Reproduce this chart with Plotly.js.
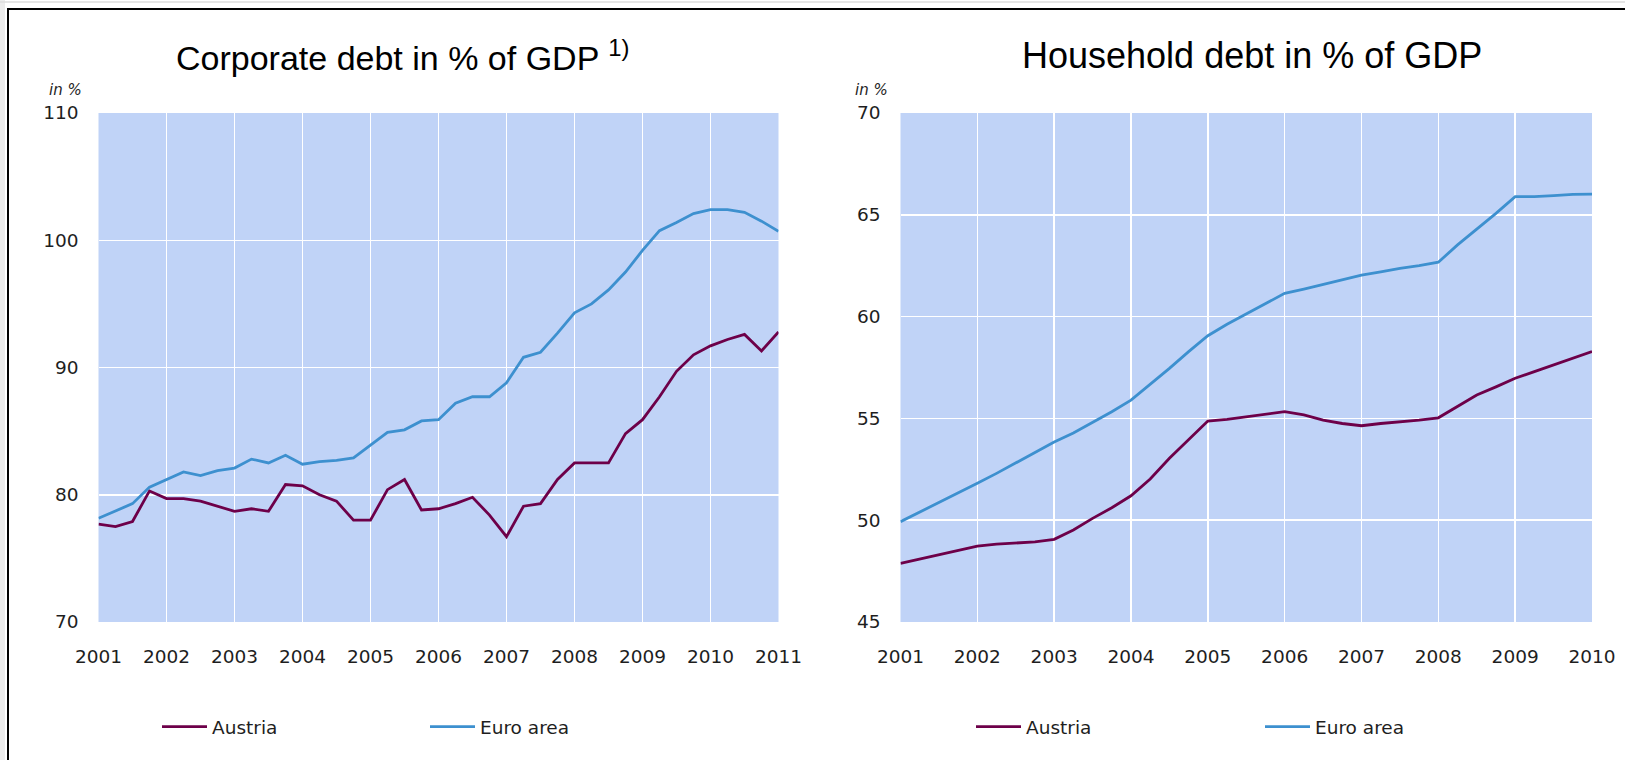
<!DOCTYPE html>
<html>
<head>
<meta charset="utf-8">
<script src="https://cdn.plot.ly/plotly-3.0.1.min.js"></script>
<style>
  html, body { margin: 0; padding: 0; background: #ffffff; overflow: hidden; }
  #chart { width: 1625px; height: 760px; }
</style>
</head>
<body>
<div id="chart"></div>
<script>
// ---------- data ----------
const corpQuarters = [2001, 2001.25, 2001.5, 2001.75, 2002, 2002.25, 2002.5, 2002.75,
  2003, 2003.25, 2003.5, 2003.75, 2004, 2004.25, 2004.5, 2004.75,
  2005, 2005.25, 2005.5, 2005.75, 2006, 2006.25, 2006.5, 2006.75,
  2007, 2007.25, 2007.5, 2007.75, 2008, 2008.25, 2008.5, 2008.75,
  2009, 2009.25, 2009.5, 2009.75, 2010, 2010.25, 2010.5, 2010.75, 2011];
const corpAustria = [77.7, 77.5, 77.9, 80.3, 79.7, 79.7, 79.5, 79.1,
  78.7, 78.9, 78.7, 80.8, 80.7, 80.0, 79.5, 78.0,
  78.0, 80.4, 81.2, 78.8, 78.9, 79.3, 79.8, 78.4,
  76.7, 79.1, 79.3, 81.2, 82.5, 82.5, 82.5, 84.8,
  85.9, 87.7, 89.7, 91.0, 91.7, 92.2, 92.6, 91.3, 92.8];
const corpEuro = [78.15, 78.7, 79.3, 80.6, 81.2, 81.8, 81.5, 81.9,
  82.1, 82.8, 82.5, 83.1, 82.4, 82.6, 82.7, 82.9,
  83.9, 84.9, 85.1, 85.8, 85.9, 87.2, 87.7, 87.7,
  88.8, 90.8, 91.2, 92.7, 94.3, 95.0, 96.1, 97.5,
  99.2, 100.75, 101.4, 102.1, 102.4, 102.4, 102.2, 101.5, 100.7];

const hhQuarters = [2001, 2001.25, 2001.5, 2001.75, 2002, 2002.25, 2002.5, 2002.75,
  2003, 2003.25, 2003.5, 2003.75, 2004, 2004.25, 2004.5, 2004.75,
  2005, 2005.25, 2005.5, 2005.75, 2006, 2006.25, 2006.5, 2006.75,
  2007, 2007.25, 2007.5, 2007.75, 2008, 2008.25, 2008.5, 2008.75,
  2009, 2009.25, 2009.5, 2009.75, 2010];
const hhAustria = [47.88, 48.09, 48.32, 48.54, 48.73, 48.82, 48.88, 48.94,
  49.06, 49.52, 50.09, 50.61, 51.2, 52.02, 53.04, 53.94,
  54.87, 54.95, 55.08, 55.2, 55.33, 55.17, 54.92, 54.75,
  54.64, 54.75, 54.83, 54.92, 55.03, 55.57, 56.15, 56.55,
  56.97, 57.3, 57.63, 57.96, 58.28];
const hhEuro = [49.93, 50.39, 50.88, 51.32, 51.81, 52.3, 52.8, 53.3,
  53.84, 54.28, 54.8, 55.33, 55.9, 56.67, 57.46, 58.28,
  59.06, 59.62, 60.12, 60.65, 61.14, 61.35, 61.58, 61.8,
  62.04, 62.2, 62.37, 62.5, 62.67, 63.52, 64.29, 65.07,
  65.89, 65.89, 65.94, 66.0, 66.02];

const corpYears = [2001, 2002, 2003, 2004, 2005, 2006, 2007, 2008, 2009, 2010, 2011];
const hhYears = [2001, 2002, 2003, 2004, 2005, 2006, 2007, 2008, 2009, 2010];
const corpTicks = [70, 80, 90, 100, 110];
const hhTicks = [45, 50, 55, 60, 65, 70];

const seriesNames = ['Austria', 'Euro area'];
const titles = ['Corporate debt in % of GDP <sup>1)</sup>', 'Household debt in % of GDP'];
const unitLabel = 'in %';

// ---------- style ----------
const W = 1625, H = 760;
const px = v => v / W;
const py = v => 1 - v / H;
const cAustria = '#6d0049';
const cEuro = '#3d90cf';
const plotBg = '#c0d3f7';
const tickFont = { family: 'DejaVu Sans, Liberation Sans, sans-serif', size: 18.5, color: '#1e1e1e' };
const lineW = 2.8;

const traces = [
  { x: corpQuarters, y: corpAustria, name: seriesNames[0], xaxis: 'x', yaxis: 'y', type: 'scatter', mode: 'lines',
    line: { color: cAustria, width: lineW }, legend: 'legend' },
  { x: corpQuarters, y: corpEuro, name: seriesNames[1], xaxis: 'x', yaxis: 'y', type: 'scatter', mode: 'lines',
    line: { color: cEuro, width: lineW }, legend: 'legend' },
  { x: hhQuarters, y: hhAustria, name: seriesNames[0], xaxis: 'x2', yaxis: 'y2', type: 'scatter', mode: 'lines',
    line: { color: cAustria, width: lineW }, legend: 'legend2' },
  { x: hhQuarters, y: hhEuro, name: seriesNames[1], xaxis: 'x2', yaxis: 'y2', type: 'scatter', mode: 'lines',
    line: { color: cEuro, width: lineW }, legend: 'legend2' }
];

const xBase = {
  showgrid: true, gridcolor: '#ffffff', gridwidth: 1.5, zeroline: false, showline: false,
  ticks: '', tickfont: tickFont, ticklabelstandoff: 21, fixedrange: true
};
const yBase = {
  showgrid: true, gridcolor: '#ffffff', gridwidth: 1.5, zeroline: false, showline: false,
  ticks: '', tickfont: tickFont, ticklabelstandoff: 19, fixedrange: true
};

const legendBase = {
  orientation: 'h', xanchor: 'left', yanchor: 'middle', bgcolor: 'rgba(0,0,0,0)',
  font: tickFont, itemwidth: 45, entrywidthmode: 'pixels', itemclick: false, itemdoubleclick: false
};

const layout = {
  width: W, height: H,
  margin: { l: 0, r: 0, t: 0, b: 0, autoexpand: false },
  paper_bgcolor: '#ffffff',
  plot_bgcolor: plotBg,
  font: { family: 'Liberation Sans, Arial, sans-serif', color: '#000' },
  xaxis: Object.assign({}, xBase, { domain: [px(98.5), px(778.5)], range: [2001, 2011],
    tickvals: corpYears, ticktext: corpYears.map(String), anchor: 'y' }),
  yaxis: Object.assign({}, yBase, { domain: [py(622), py(113)], range: [70, 110],
    tickvals: corpTicks, anchor: 'x' }),
  xaxis2: Object.assign({}, xBase, { domain: [px(900.5), px(1592)], range: [2001, 2010],
    tickvals: hhYears, ticktext: hhYears.map(String), anchor: 'y2' }),
  yaxis2: Object.assign({}, yBase, { domain: [py(622), py(113)], range: [45, 70],
    tickvals: hhTicks, anchor: 'x2' }),
  legend: Object.assign({}, legendBase, { x: px(157), y: py(727), entrywidth: 208 }),
  legend2: Object.assign({}, legendBase, { x: px(971), y: py(727), entrywidth: 229 }),
  annotations: [
    { text: titles[0], xref: 'paper', yref: 'paper', x: px(402), y: py(55), xanchor: 'center', yanchor: 'middle',
      showarrow: false, font: { family: 'Liberation Sans, Arial, sans-serif', size: 34, color: '#000' } },
    { text: titles[1], xref: 'paper', yref: 'paper', x: px(1252), y: py(55), xanchor: 'center', yanchor: 'middle',
      showarrow: false, font: { family: 'Liberation Sans, Arial, sans-serif', size: 36, color: '#000' } },
    { text: '<i>' + unitLabel + '</i>', xref: 'paper', yref: 'paper', x: px(47), y: py(90), xanchor: 'left', yanchor: 'middle',
      showarrow: false, font: { family: 'DejaVu Sans, sans-serif', size: 15, color: '#1e1e1e' } },
    { text: '<i>' + unitLabel + '</i>', xref: 'paper', yref: 'paper', x: px(853), y: py(90), xanchor: 'left', yanchor: 'middle',
      showarrow: false, font: { family: 'DejaVu Sans, sans-serif', size: 15, color: '#1e1e1e' } }
  ],
  shapes: [
    { type: 'rect', xref: 'paper', yref: 'paper', x0: 0, x1: px(5), y0: 0, y1: 1, line: { width: 0 }, fillcolor: '#ebebeb', layer: 'below' },
    { type: 'line', xref: 'paper', yref: 'paper', x0: 0, x1: 1, y0: py(2), y1: py(2), line: { color: '#dddddd', width: 1.5 } },
    { type: 'line', xref: 'paper', yref: 'paper', x0: px(8), x1: px(8), y0: 0, y1: py(8.5), line: { color: '#000000', width: 2 } },
    { type: 'line', xref: 'paper', yref: 'paper', x0: px(7), x1: 1, y0: py(9), y1: py(9), line: { color: '#000000', width: 2 } }
  ]
};

Plotly.newPlot('chart', traces, layout, { displayModeBar: false, staticPlot: true });
</script>
</body>
</html>
